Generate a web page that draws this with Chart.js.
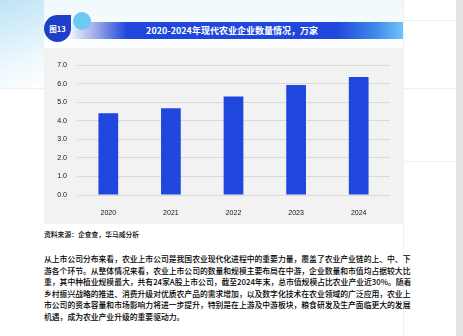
<!DOCTYPE html>
<html><head><meta charset="utf-8">
<script src="https://cdn.jsdelivr.net/npm/chart.js@4/dist/chart.umd.min.js"></script>
<style>
html,body{margin:0;padding:0;}
body{width:463px;height:336px;position:relative;overflow:hidden;background:#fff;font-family:"Noto Sans CJK SC","Noto Sans",sans-serif;}
#bgL{position:absolute;left:0;top:0;width:44px;height:90px;background:linear-gradient(160deg,#bfe3f5 0%,#d6eefa 35%,#eef8fd 65%,#ffffff 100%);}
#bgT{position:absolute;left:44px;top:0;width:359px;height:48px;background:linear-gradient(180deg,#eef8fc 0%,#f8fcfe 60%,#ffffff 100%);}
#bgR{position:absolute;left:403px;top:0;width:53px;height:336px;background:#fff;border-left:1px solid #f1f1f1;}
#bar{position:absolute;left:456px;top:0;width:7px;height:336px;background:#e4e4e4;}
.hl{position:absolute;height:1px;background:#f0f0f0;}
#tbar{position:absolute;left:70px;top:22px;width:333px;height:17px;background:linear-gradient(90deg,#f2f3fb 0%,#9aa8e8 8%,#2047dc 17%,#2047dc 80%,#3f8be8 92%,#6fc4fb 100%);}
#ttext{position:absolute;left:44px;top:22px;width:376px;height:17px;line-height:17px;text-align:center;color:#fff;font-weight:bold;font-size:9px;}
#drop{position:absolute;left:44px;top:15px;width:27px;height:27px;background:#1f3fc8;border-radius:50% 0 50% 50%;color:#fff;font-weight:bold;font-size:7.5px;line-height:27px;text-align:center;}
#dot{position:absolute;left:73px;top:12px;width:18px;height:18px;border-radius:50%;background:#6ec8f6;}
#gray{position:absolute;left:44px;top:48px;width:359px;height:176px;background:#f2f2f2;}
#wrap{position:absolute;left:44px;top:48px;width:359px;height:176px;}
#src{position:absolute;left:44px;top:229px;font-size:6.8px;color:#000;white-space:nowrap;font-weight:500;}
#para{position:absolute;left:44px;top:253px;width:359px;font-size:7.8px;color:#000;line-height:11.6px;font-weight:500;}
#para div{text-align:justify;text-align-last:justify;white-space:nowrap;}
#para div.last{text-align-last:left;}
</style></head><body>
<div id="bgL"></div><div id="bgT"></div><div id="bgR"></div><div id="bar"></div>
<div class="hl" style="left:403px;top:20px;width:53px;"></div>
<div class="hl" style="left:0;top:88px;width:44px;"></div>
<div class="hl" style="left:403px;top:88px;width:53px;"></div>
<div class="hl" style="left:403px;top:161px;width:53px;"></div>
<div id="tbar"></div>
<div id="ttext">2020-2024年现代农业企业数量情况，万家</div>
<div id="dot"></div>
<div id="drop">图13</div>
<div id="gray"></div>
<div id="wrap"><canvas id="c" width="359" height="176"></canvas></div>
<div id="src">资料来源：企查查，华马威分析</div>
<div id="para">
<div>从上市公司分布来看，农业上市公司是我国农业现代化进程中的重要力量，覆盖了农业产业链的上、中、下</div>
<div>游各个环节。从整体情况来看，农业上市公司的数量和规模主要布局在中游，企业数量和市值均占据较大比</div>
<div>重，其中种植业规模最大，共有24家A股上市公司，截至2024年末，总市值规模占比农业产业近30%。随着</div>
<div>乡村振兴战略的推进、消费升级对优质农产品的需求增加，以及数字化技术在农业领域的广泛应用，农业上</div>
<div>市公司的资本容量和市场影响力将进一步提升，特别是在上游及中游板块，粮食研发及生产面临更大的发展</div>
<div class="last">机遇，成为农业产业升级的重要驱动力。</div>
</div>
<script>
const categories = ['2020','2021','2022','2023','2024'];
const values = [4.40, 4.67, 5.31, 5.92, 6.35];
const yTicks = [0,1,2,3,4,5,6,7];

new Chart(document.getElementById('c'), {
  type: 'bar',
  data: {
    labels: categories,
    datasets: [{
      data: values,
      backgroundColor: '#1f46dd',
      categoryPercentage: 1,
      barPercentage: 0.315
    }]
  },
  options: {
    responsive: false,
    animation: false,
    layout: {padding: {top: 17, right: 13, left: 0, bottom: 0}},
    plugins: {legend: {display: false}, tooltip: {enabled: false}},
    scales: {
      x: {
        grid: {display: false},
        border: {display: false},
        ticks: {color: '#111', font: {size: 7, family: 'Liberation Sans'}, padding: 6},
        afterFit: s => { s.height = 29; }
      },
      y: {
        min: 0, max: 7,
        afterBuildTicks: s => { s.ticks = yTicks.map(v => ({value: v})); },
        grid: {color: '#d9d9d9', lineWidth: 1, drawTicks: false},
        border: {display: false},
        ticks: {color: '#111', font: {size: 7, family: 'Liberation Sans'}, padding: 10,
          callback: v => Number(v).toFixed(1)},
        afterFit: s => { s.width = 33; }
      }
    }
  }
});
</script>
</body></html>
